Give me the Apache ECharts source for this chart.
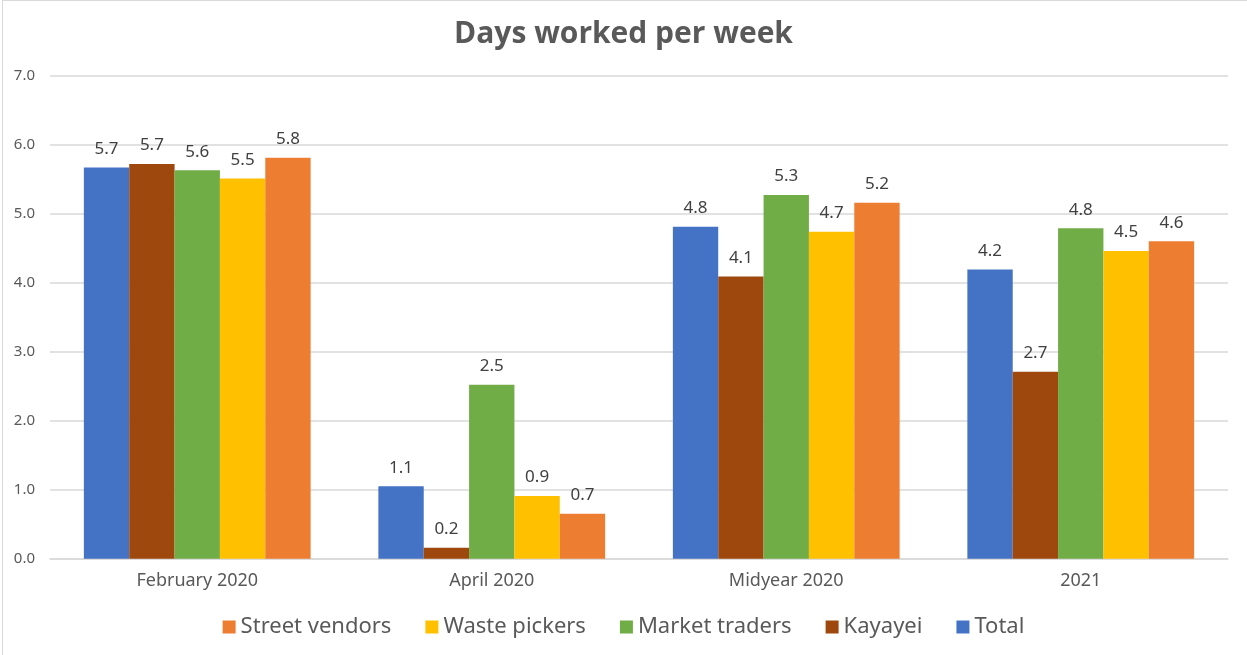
<!DOCTYPE html>
<html>
<head>
<meta charset="utf-8">
<script src="https://cdn.jsdelivr.net/npm/echarts@6/dist/echarts.min.js"></script>
<style>
  html, body { margin: 0; padding: 0; background: #fff; }
  #frame { position: absolute; left: 2px; top: 0; width: 1245px; height: 655px; border-left: 1px solid #d9d9d9; border-top: 1px solid #d9d9d9; box-sizing: border-box; }
  #chart { position: absolute; left: 0; top: 0; width: 1247px; height: 655px; }
</style>
</head>
<body>
<div id="frame"></div>
<div id="chart"></div>
<script>
const categories = ['February 2020', 'April 2020', 'Midyear 2020', '2021'];
const yTicks = [0, 1, 2, 3, 4, 5, 6, 7];
const total = [5.67, 1.05, 4.81, 4.19];
const kayayei = [5.72, 0.16, 4.09, 2.71];
const marketTraders = [5.63, 2.52, 5.27, 4.79];
const wastePickers = [5.51, 0.91, 4.74, 4.46];
const streetVendors = [5.81, 0.65, 5.16, 4.60];
const seriesNames = ['Total', 'Kayayei', 'Market traders', 'Waste pickers', 'Street vendors'];
const seriesData = [total, kayayei, marketTraders, wastePickers, streetVendors];
const colors = ['#4472C4', '#9E480E', '#70AD47', '#FFC000', '#ED7D31'];
const legendOrder = ['Street vendors', 'Waste pickers', 'Market traders', 'Kayayei', 'Total'];

const chart = echarts.init(document.getElementById('chart'), null, { renderer: 'canvas' });
const font = 'Noto Sans';
chart.setOption({
  animation: false,
  title: {
    text: 'Days worked per week',
    left: 'center',
    top: 14,
    textStyle: { fontFamily: 'Open Sans', fontWeight: 'bold', fontSize: 30, color: '#595959' }
  },
  legend: {
    data: legendOrder,
    bottom: 12,
    left: 'center',
    itemWidth: 13,
    itemHeight: 13,
    itemGap: 34,
    icon: 'rect',
    textStyle: { fontFamily: font, fontSize: 22, color: '#595959' }
  },
  grid: { left: 50, right: 19, top: 75.7, bottom: 96.3, containLabel: false },
  xAxis: {
    type: 'category',
    data: categories,
    axisLine: { lineStyle: { color: '#d9d9d9', width: 1.5 } },
    axisTick: { show: false },
    axisLabel: { fontFamily: font, fontSize: 18, color: '#595959', margin: 13 }
  },
  yAxis: {
    type: 'value',
    min: yTicks[0],
    max: yTicks[yTicks.length - 1],
    interval: 1,
    axisLine: { show: false },
    axisTick: { show: false },
    splitLine: { lineStyle: { color: '#d9d9d9', width: 1.5 } },
    axisLabel: { fontFamily: font, fontSize: 15, color: '#595959', margin: 15, formatter: v => v.toFixed(1) }
  },
  series: seriesNames.map((name, i) => ({
    name: name,
    type: 'bar',
    data: seriesData[i],
    barGap: '0%',
    barCategoryGap: '23%',
    itemStyle: { color: colors[i] },
    label: {
      show: true,
      position: 'top',
      distance: 10,
      fontFamily: font,
      fontSize: 17,
      color: '#404040',
      formatter: p => p.value.toFixed(1)
    }
  }))
});
</script>
</body>
</html>
